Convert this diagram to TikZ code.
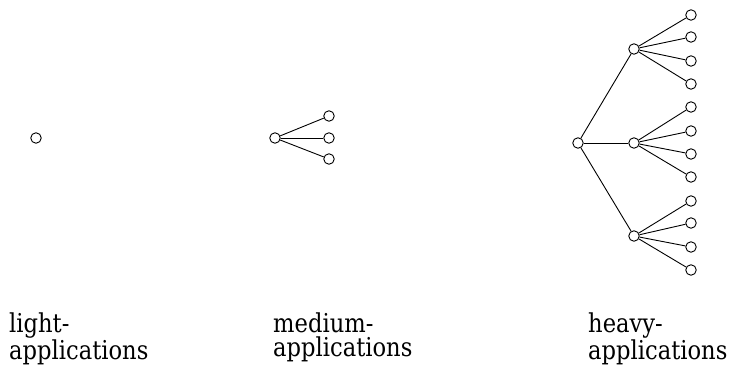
\documentclass[tikz,border=0pt]{standalone}
\usepackage{fontspec}
\newfontfamily\labelfont[FakeStretch=0.87]{DejaVu Serif}

\begin{document}
\begin{tikzpicture}[x=1pt, y=-1pt,
    every node/.style = {inner sep=0pt},
    dot/.style        = {draw, circle, fill=white, minimum size=10.5pt,
                         line width=0.9pt},
    caption/.style    = {anchor=north west, align=left,
                         font=\labelfont\fontsize{26}{24}\selectfont},
    twig/.style       = {draw=black, line width=0.9pt}]

    \useasboundingbox (0,0) rectangle (729,366);

    % Light
    \node[dot] (light) at (36,138) {};

    % Medium
    \node[dot] (medR) at (275,138) {};
    \node[dot] (medA) at (329,116) {};
    \node[dot] (medB) at (329,138) {};
    \node[dot] (medC) at (329,159) {};

    % Heavy: root and middle level
    \node[dot] (heavyR) at (578,143) {};
    \node[dot] (hA) at (634,49)  {};
    \node[dot] (hB) at (634,143) {};
    \node[dot] (hC) at (634,236) {};

    % Heavy: leaves
    \node[dot] (hA1) at (691,15)  {};
    \node[dot] (hA2) at (691,37)  {};
    \node[dot] (hA3) at (691,61)  {};
    \node[dot] (hA4) at (691,84)  {};
    \node[dot] (hB1) at (691,107) {};
    \node[dot] (hB2) at (691,131) {};
    \node[dot] (hB3) at (691,154) {};
    \node[dot] (hB4) at (691,177) {};
    \node[dot] (hC1) at (691,201) {};
    \node[dot] (hC2) at (691,223) {};
    \node[dot] (hC3) at (691,247) {};
    \node[dot] (hC4) at (691,270) {};

    % Edges
    \draw[twig] (medR) -- (medA);
    \draw[twig] (medR) -- (medB);
    \draw[twig] (medR) -- (medC);

    \draw[twig] (heavyR) -- (hA);
    \draw[twig] (heavyR) -- (hB);
    \draw[twig] (heavyR) -- (hC);

    \draw[twig] (hA) -- (hA1);
    \draw[twig] (hA) -- (hA2);
    \draw[twig] (hA) -- (hA3);
    \draw[twig] (hA) -- (hA4);
    \draw[twig] (hB) -- (hB1);
    \draw[twig] (hB) -- (hB2);
    \draw[twig] (hB) -- (hB3);
    \draw[twig] (hB) -- (hB4);
    \draw[twig] (hC) -- (hC1);
    \draw[twig] (hC) -- (hC2);
    \draw[twig] (hC) -- (hC3);
    \draw[twig] (hC) -- (hC4);

    % Captions
    \node[caption] (lightT)  at (9,313)   {light-\\applications};
    \node[caption] (mediumT) at (273,313) {medium-\\applications};
    \node[caption] (heavyT)  at (588,313) {heavy-\\applications};
  \end{tikzpicture}
\end{document}
